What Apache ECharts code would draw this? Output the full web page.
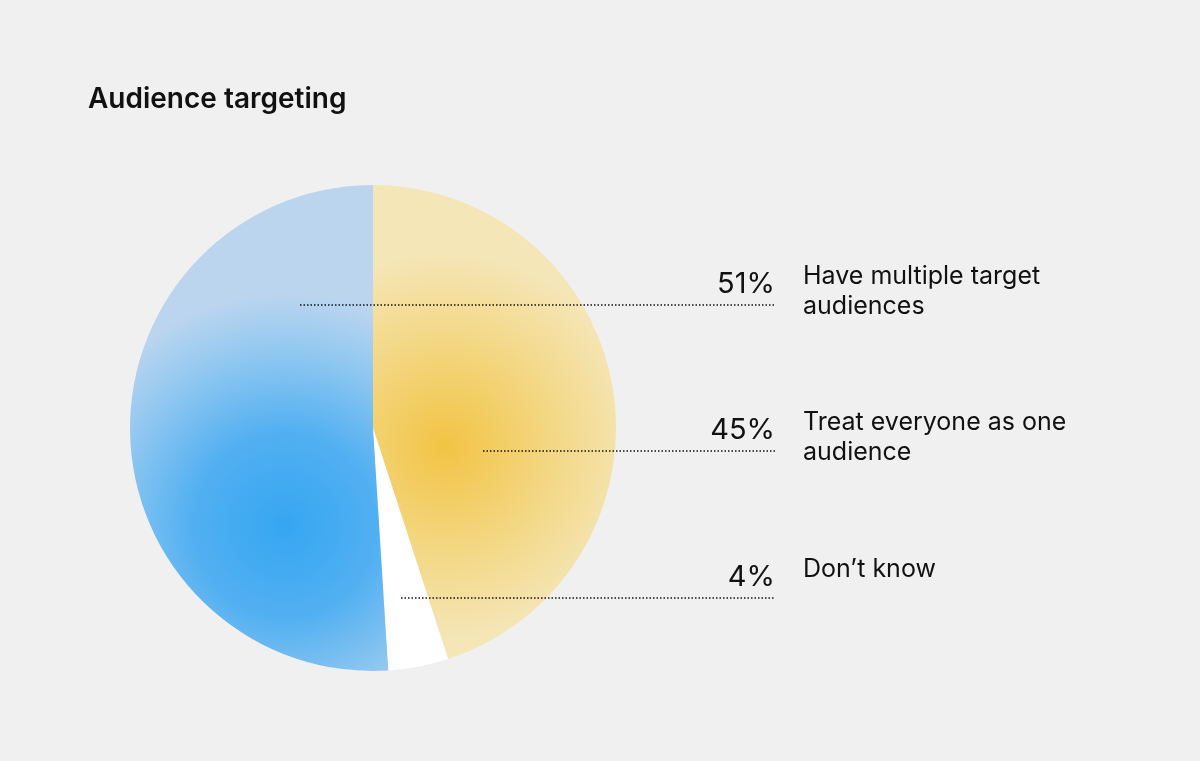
<!DOCTYPE html>
<html>
<head>
<meta charset="utf-8">
<script src="https://cdn.jsdelivr.net/npm/echarts@6/dist/echarts.min.js"></script>
<style>
  html, body { margin: 0; padding: 0; background: #f0f0f0; }
  #chart { width: 1200px; height: 761px; }
</style>
</head>
<body>
<div id="chart"></div>
<script>
var categories = ['Treat everyone as one\naudience', "Don\u2019t know", 'Have multiple target\naudiences'];
var values = [45, 4, 51];
// where each label row sits (y) and where its leader line starts (x)
var labelRows = [
  { y: 451, x0: 483 },
  { y: 598, x0: 401 },
  { y: 305, x0: 300 }
];

var chart = echarts.init(document.getElementById('chart'));

var yellow = new echarts.graphic.RadialGradient(0.3, 0.55, 0.8, [
  { offset: 0, color: '#f2c444' },
  { offset: 0.6, color: '#f3d98a' },
  { offset: 1, color: '#f5e6b8' }
]);
var blue = new echarts.graphic.RadialGradient(0.6, 0.7, 0.9, [
  { offset: 0, color: '#35a6f2' },
  { offset: 0.4, color: '#52b0f1' },
  { offset: 0.75, color: '#92c8f0' },
  { offset: 1, color: '#bcd5ef' }
]);
var colors = [yellow, '#ffffff', blue];

var graphics = [{
  type: 'text', left: 88, top: 86, z: 100,
  style: { text: 'Audience targeting', font: '600 28px Inter, "Noto Sans", sans-serif', fill: '#111' }
}];
values.forEach(function (v, i) {
  var row = labelRows[i];
  graphics.push({
    type: 'line', z: 100,
    shape: { x1: row.x0, y1: row.y, x2: 775, y2: row.y },
    style: { stroke: '#111', lineWidth: 1.5, lineDash: [1.5, 2] }
  });
  graphics.push({
    type: 'text', x: 775, y: row.y - 6, z: 100,
    style: { text: v + '%', font: '29px Inter, "Noto Sans", sans-serif', fill: '#111',
      textAlign: 'right', textVerticalAlign: 'bottom' }
  });
  graphics.push({
    type: 'text', x: 803, y: row.y - 44, z: 100,
    style: { text: categories[i], font: '25px Inter, "Noto Sans", sans-serif', fill: '#111',
      lineHeight: 30, textAlign: 'left', textVerticalAlign: 'top' }
  });
});

chart.setOption({
  backgroundColor: '#f0f0f0',
  animation: false,
  graphic: graphics,
  series: [{
    type: 'pie',
    z: 1,
    center: [373, 428],
    radius: [0, 243],
    startAngle: 90,
    clockwise: true,
    label: { show: false },
    labelLine: { show: false },
    emphasis: { disabled: true },
    data: values.map(function (v, i) {
      return { value: v, name: categories[i], itemStyle: { color: colors[i] } };
    })
  }]
});
</script>
</body>
</html>
